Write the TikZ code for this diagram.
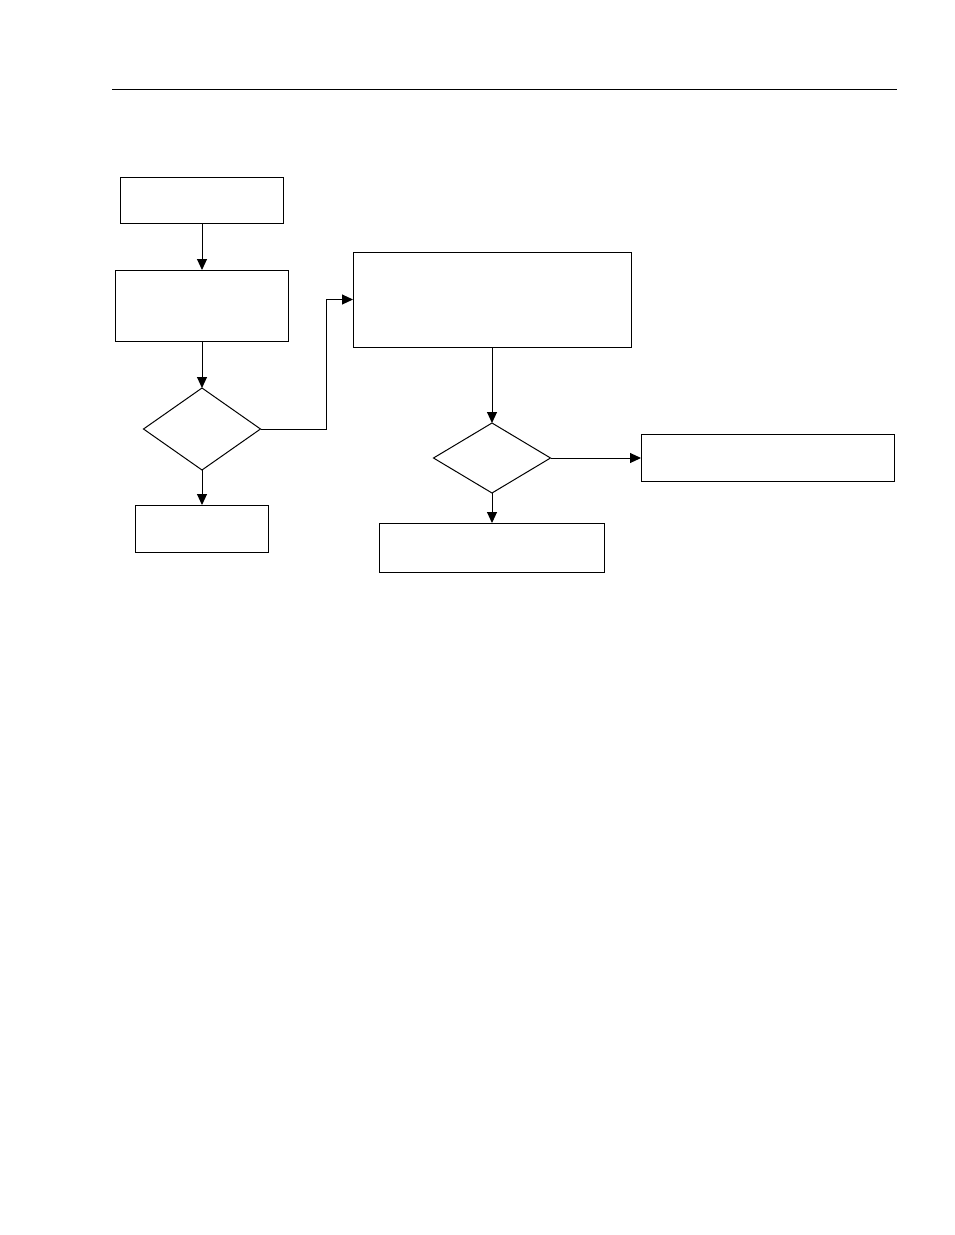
\documentclass[tikz,border=0pt]{standalone}
\usepackage{tikz}
\usetikzlibrary{shapes.geometric,arrows.meta,positioning,calc}

\begin{document}
\begin{tikzpicture}[x=1pt, y=-1pt]
    % Styles
    \tikzstyle{stepbox} = [draw=black, line width=1pt, inner sep=0pt, outer sep=0pt]
    \tikzstyle{decision} = [diamond, draw=black, line width=1pt, inner sep=0pt, outer sep=0pt]
    \tikzstyle{arrow} = [line width=1pt, -{Triangle[length=11pt, width=10pt]}]

    \useasboundingbox (0,0) rectangle (954,1235);

    % Page rule
    \draw[line width=1pt] (112,89) -- (897,89);

    % Left column
    \node[stepbox, minimum width=163pt, minimum height=46pt] (start) at (202,200) {};
    \node[stepbox, minimum width=173pt, minimum height=71pt] (prep) at (202,305.5) {};
    \node[decision, minimum width=117pt, minimum height=82pt] (check1) at (202,429) {};
    \node[stepbox, minimum width=133pt, minimum height=47pt] (stop1) at (202,528.5) {};

    % Right column
    \node[stepbox, minimum width=278pt, minimum height=95pt] (process) at (492,299.5) {};
    \node[decision, minimum width=117pt, minimum height=70pt] (check2) at (492,458) {};
    \node[stepbox, minimum width=253pt, minimum height=47pt] (result) at (767.5,458) {};
    \node[stepbox, minimum width=225pt, minimum height=49pt] (stop2) at (492,547.5) {};

    % Connectors
    \draw[arrow] (start.south) -- (prep.north);
    \draw[arrow] (prep.south) -- (check1.north);
    \draw[arrow] (check1.south) -- (stop1.north);
    \draw[arrow] (check1.east) -- ++(66,0) |- (process.west);
    \draw[arrow] (process.south) -- (check2.north);
    \draw[arrow] (check2.east) -- (result.west);
    \draw[arrow] (check2.south) -- (stop2.north);
\end{tikzpicture}
\end{document}
